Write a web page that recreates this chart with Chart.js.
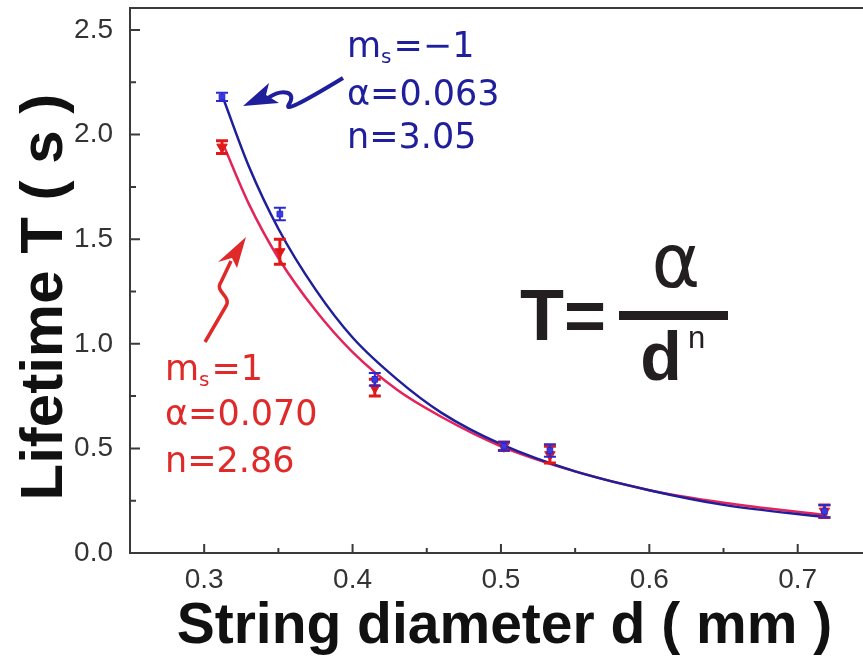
<!DOCTYPE html>
<html>
<head>
<meta charset="utf-8">
<script src="https://cdn.jsdelivr.net/npm/chart.js@4.4.1/dist/chart.umd.min.js"></script>
<style>
  html, body { margin: 0; padding: 0; background: #fff; }
  #wrap { width: 863px; height: 656px; }
</style>
</head>
<body>
<div id="wrap"><canvas id="grafico" width="863" height="656"></canvas></div>
<script>
// measured lifetimes (d in mm, T in s)
const diamPts  = [0.312, 0.351, 0.415, 0.502, 0.533, 0.718];
const tMinus   = [2.18, 1.62, 0.83, 0.51, 0.49, 0.20];
const errMinus = [0.02, 0.03, 0.03, 0.02, 0.03, 0.03];
const tPlus    = [1.94, 1.44, 0.79, 0.51, 0.47, 0.20];
const errPlus  = [0.03, 0.06, 0.04, 0.02, 0.04, 0.03];

// fitted curves
const diamFit  = [0.313, 0.33, 0.35, 0.375, 0.40, 0.43, 0.46, 0.50, 0.55, 0.60, 0.65, 0.72];
const fitMinus = [2.17, 1.85, 1.55, 1.26, 1.03, 0.83, 0.67, 0.52, 0.39, 0.30, 0.23, 0.17];
const fitPlus  = [1.95, 1.67, 1.41, 1.16, 0.96, 0.78, 0.65, 0.51, 0.39, 0.30, 0.24, 0.18];

// axes
const xTicks = [0.3, 0.4, 0.5, 0.6, 0.7];
const xMinor = [0.35, 0.45, 0.55, 0.65];
const yTicks = [0, 0.5, 1.0, 1.5, 2.0, 2.5];
const yMinor = [0.25, 0.75, 1.25, 1.75, 2.25];

const BLUE = "#1f1f9c";
const RED = "#e3235a";
const AXIS = "#3a3a3a";

const pares = (xs, ys) => xs.map((x, i) => ({ x, y: ys[i] }));

// ==============================
// PLUGINS
// ==============================
const errBars = {
  id: "errBars",
  beforeDatasetDraw(chart, args){
    const ds = chart.data.datasets[args.index];
    if (!ds.errors) return;
    const { ctx, scales: { x, y } } = chart;
    ctx.save();
    ctx.strokeStyle = ds.errColor;
    ctx.lineWidth = ds.errWidth;
    ds.data.forEach((p, k) => {
      const px = x.getPixelForValue(p.x);
      const top = y.getPixelForValue(p.y + ds.errors[k]);
      const bot = y.getPixelForValue(p.y - ds.errors[k]);
      ctx.beginPath();
      ctx.moveTo(px, top); ctx.lineTo(px, bot);
      ctx.moveTo(px - 6, top); ctx.lineTo(px + 6, top);
      ctx.moveTo(px - 6, bot); ctx.lineTo(px + 6, bot);
      ctx.stroke();
    });
    ctx.restore();
  }
};

const frame = {
  id: "frame",
  beforeDatasetsDraw(chart){
    const { ctx, chartArea: a, scales: { x, y } } = chart;
    ctx.save();
    ctx.strokeStyle = AXIS;
    ctx.lineWidth = 2;
    ctx.beginPath();
    ctx.moveTo(a.left, a.top); ctx.lineTo(a.right, a.top);
    yTicks.forEach(v => { const py = y.getPixelForValue(v); ctx.moveTo(a.left, py); ctx.lineTo(a.left + 10, py); });
    yMinor.forEach(v => { const py = y.getPixelForValue(v); ctx.moveTo(a.left, py); ctx.lineTo(a.left + 6, py); });
    xTicks.forEach(v => { const px = x.getPixelForValue(v); ctx.moveTo(px, a.bottom); ctx.lineTo(px, a.bottom - 9); });
    xMinor.forEach(v => { const px = x.getPixelForValue(v); ctx.moveTo(px, a.bottom); ctx.lineTo(px, a.bottom - 5); });
    ctx.stroke();
    ctx.restore();
  }
};

function linhaMs(ctx, x, y, sinal, cor){
  ctx.fillStyle = cor;
  ctx.font = "35px 'DejaVu Sans'";
  ctx.fillText("m", x, y);
  const w = ctx.measureText("m").width;
  ctx.font = "20px 'DejaVu Sans'";
  ctx.fillText("s", x + w, y + 6);
  const ws = ctx.measureText("s").width;
  ctx.font = "35px 'DejaVu Sans'";
  ctx.fillText("=" + sinal, x + w + ws + 2, y);
}

const notas = {
  id: "notas",
  afterDraw(chart){
    const { ctx } = chart;
    ctx.save();
    ctx.textAlign = "left";
    ctx.textBaseline = "alphabetic";

    // ms = -1 label
    linhaMs(ctx, 347, 57, "\u22121", BLUE);
    ctx.font = "35px 'DejaVu Sans'";
    ctx.fillText("\u03b1=0.063", 347, 105);
    ctx.fillText("n=3.05", 347, 148);

    // ms = 1 label
    const vermelho = "#e02a2a";
    linhaMs(ctx, 165, 380, "1", vermelho);
    ctx.font = "35px 'DejaVu Sans'";
    ctx.fillText("\u03b1=0.070", 165, 425);
    ctx.fillText("n=2.86", 165, 472);

    // blue arrow
    ctx.fillStyle = BLUE;
    ctx.strokeStyle = BLUE;
    ctx.lineWidth = 4;
    ctx.beginPath();
    ctx.moveTo(243, 106); ctx.lineTo(269, 83); ctx.lineTo(266, 95); ctx.lineTo(279, 103);
    ctx.closePath(); ctx.fill();
    ctx.beginPath();
    ctx.moveTo(268, 98);
    ctx.bezierCurveTo(283, 88, 297, 92, 289, 104);
    ctx.bezierCurveTo(284, 112, 300, 104, 343, 78);
    ctx.stroke();

    // red arrow
    ctx.fillStyle = vermelho;
    ctx.strokeStyle = vermelho;
    ctx.lineWidth = 3.5;
    ctx.beginPath();
    ctx.moveTo(246, 237); ctx.lineTo(237, 268); ctx.lineTo(232, 258); ctx.lineTo(218, 262);
    ctx.closePath(); ctx.fill();
    ctx.beginPath();
    ctx.moveTo(231, 261);
    ctx.lineTo(221, 282);
    ctx.bezierCurveTo(214, 292, 232, 296, 226, 306);
    ctx.lineTo(205, 342);
    ctx.stroke();

    // formula T = alpha / d^n
    ctx.fillStyle = "#231f20";
    ctx.font = "bold 72px 'Liberation Sans'";
    ctx.fillText("T=", 520, 340);
    ctx.fillRect(619, 311, 109, 9);
    ctx.font = "74px 'DejaVu Sans'";
    ctx.textAlign = "center";
    ctx.fillText("\u03b1", 676, 287);
    ctx.font = "bold 68px 'Liberation Sans'";
    ctx.fillText("d", 661, 380);
    ctx.font = "31px 'Liberation Sans'";
    ctx.textAlign = "left";
    ctx.fillText("n", 688, 348);
    ctx.restore();
  }
};

// ==============================
// CHART
// ==============================
new Chart(document.getElementById("grafico"), {
  type: "scatter",
  data: {
    datasets: [
      {
        label: "ms=-1",
        data: pares(diamPts, tMinus),
        errors: errMinus, errColor: "#2a2ad0", errWidth: 2,
        pointStyle: "rect", pointRadius: 4,
        backgroundColor: "#3a3ae0", borderColor: "#2a2ad0", borderWidth: 1
      },
      {
        label: "ms=1",
        data: pares(diamPts, tPlus),
        errors: errPlus, errColor: "#e01818", errWidth: 3,
        pointStyle: "triangle", rotation: 180, pointRadius: 6,
        backgroundColor: "#e01818", borderColor: "#e01818", borderWidth: 1
      },
      {
        label: "fit ms=-1",
        type: "line",
        data: pares(diamFit, fitMinus),
        borderColor: BLUE, borderWidth: 2.5,
        pointRadius: 0, fill: false,
        cubicInterpolationMode: "monotone"
      },
      {
        label: "fit ms=1",
        type: "line",
        data: pares(diamFit, fitPlus),
        borderColor: RED, borderWidth: 2.5,
        pointRadius: 0, fill: false,
        cubicInterpolationMode: "monotone"
      }
    ]
  },
  options: {
    responsive: false,
    animation: false,
    layout: { autoPadding: false, padding: { top: 8, left: 0, right: 0, bottom: 0 } },
    plugins: { legend: { display: false }, tooltip: { enabled: false } },
    scales: {
      x: {
        type: "linear",
        min: 0.25,
        max: 0.744,
        afterBuildTicks: s => { s.ticks = xTicks.map(v => ({ value: v })); },
        afterFit: s => { s.height = 103; s.paddingLeft = 0; s.paddingRight = 0; },
        grid: { display: false, drawTicks: false },
        border: { display: true, color: AXIS, width: 2 },
        ticks: {
          color: "#333",
          font: { family: "Liberation Sans", size: 28 },
          padding: 10,
          maxRotation: 0,
          autoSkip: false,
          callback: v => Number(v).toFixed(1)
        },
        title: {
          display: true,
          text: " String diameter d ( mm )",
          color: "#111",
          font: { family: "Liberation Sans", size: 57, weight: "bold", lineHeight: 1 },
          padding: { top: 0, bottom: 0 }
        }
      },
      y: {
        type: "linear",
        min: 0,
        max: 2.605,
        afterBuildTicks: s => { s.ticks = yTicks.map(v => ({ value: v })); },
        afterFit: s => { s.width = 130; s.paddingTop = 0; s.paddingBottom = 0; },
        grid: { display: false, drawTicks: false },
        border: { display: true, color: AXIS, width: 2 },
        ticks: {
          color: "#333",
          font: { family: "Liberation Sans", size: 28 },
          padding: 17,
          callback: v => Number(v).toFixed(1)
        },
        title: {
          display: true,
          text: "Lifetime T ( s )  ",
          color: "#111",
          font: { family: "Liberation Sans", size: 60, weight: "bold", lineHeight: 1 },
          padding: { top: 15, bottom: 0 }
        }
      }
    }
  },
  plugins: [errBars, frame, notas]
});
</script>
</body>
</html>
